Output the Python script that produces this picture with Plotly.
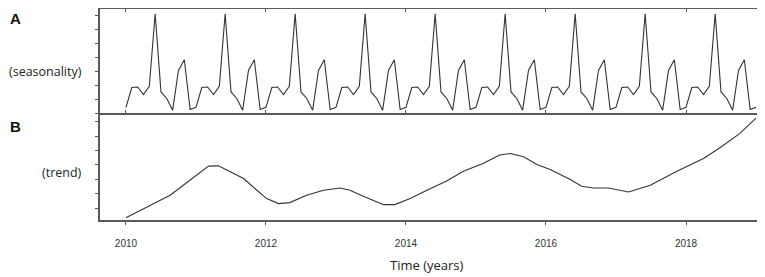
import plotly.graph_objects as go

# seasonal component (one cycle, Jan..Dec), repeats every year in the decomposition
season_pattern = [0.41, 1.84, 1.88, 1.34, 1.93, 7.16, 1.52, 1.05, 0.21, 3.07, 3.84, 0.26]
n_years = 9
season_t = [2010 + m / 12 for m in range(n_years * 12 + 1)]
seasonality = season_pattern * n_years + season_pattern[:1]

# trend component
trend_t = [2010.0, 2010.63, 2010.80, 2011.18, 2011.32, 2011.68, 2011.87, 2012.01, 2012.18,
           2012.34, 2012.58, 2012.82, 2013.06, 2013.20, 2013.39, 2013.68, 2013.84, 2014.06,
           2014.30, 2014.58, 2014.82, 2015.10, 2015.34, 2015.49, 2015.68, 2015.87, 2016.06,
           2016.34, 2016.51, 2016.68, 2016.89, 2017.18, 2017.49, 2017.87, 2018.25, 2018.49,
           2018.77, 2019.0]
trend = [-0.67, 0.89, 1.52, 2.92, 2.94, 2.06, 1.24, 0.66, 0.31,
         0.38, 0.89, 1.24, 1.40, 1.24, 0.82, 0.24, 0.24, 0.66,
         1.24, 1.89, 2.57, 3.10, 3.69, 3.80, 3.57, 3.03, 2.69,
         2.01, 1.52, 1.40, 1.40, 1.12, 1.59, 2.57, 3.45, 4.22,
         5.20, 6.27]

year_ticks = [2010, 2012, 2014, 2016, 2018]

line_col = "#333333"
axis_col = "#5a5a5a"

fig = go.Figure()
fig.add_trace(go.Scatter(x=season_t, y=seasonality, mode="lines",
                         line=dict(color=line_col, width=1.1), xaxis="x", yaxis="y",
                         showlegend=False))
fig.add_trace(go.Scatter(x=trend_t, y=trend, mode="lines",
                         line=dict(color=line_col, width=1.1), xaxis="x2", yaxis="y2",
                         showlegend=False))

# the page body has an 8px margin, so the figure is drawn 8px in from the corner
xrange = [2009.629, 2019.1]
split = 0.4976
ax_common = dict(showline=True, linecolor=axis_col, linewidth=1.6, showgrid=False,
                 zeroline=False, tickcolor=axis_col, ticklen=3, tickwidth=1)

fig.update_layout(
    width=757, height=269,
    margin=dict(l=92, r=2, t=1, b=57),
    paper_bgcolor="white", plot_bgcolor="white",
    font=dict(family="Liberation Sans", color="#222222"),
    xaxis=dict(domain=[0, 1], anchor="y", side="top", range=xrange, tickvals=year_ticks,
               showticklabels=False, ticks="inside", **ax_common),
    yaxis=dict(domain=[split, 1], anchor="x", range=[-0.14, 7.5], dtick=1, tick0=0,
               showticklabels=False, ticks="outside", **ax_common),
    xaxis2=dict(domain=[0, 1], anchor="y2", range=xrange, tickvals=year_ticks,
                ticktext=[str(v) for v in year_ticks], ticks="outside", mirror="allticks",
                ticklabelstandoff=10, tickfont=dict(size=10, color="#333333"), **ax_common),
    yaxis2=dict(domain=[0, split], anchor="x2", range=[-0.83, 6.48], dtick=1, tick0=0,
                showticklabels=False, ticks="outside", **ax_common),
)


# pixel helpers (reference pixel coords -> paper fractions)
def px(x):
    return (x - 100) / 663


def py(y):
    return (220 - y) / 211


label_font = dict(family="Open Sans", size=12.5, color="#222222")
fig.add_annotation(text="<b>A</b>", x=px(8), y=py(8), xref="paper", yref="paper",
                   xanchor="left", yanchor="top", showarrow=False,
                   font=dict(family="Liberation Sans", size=15, color="#111111"))
fig.add_annotation(text="<b>B</b>", x=px(8), y=py(126), xref="paper", yref="paper",
                   xanchor="left", yanchor="middle", showarrow=False,
                   font=dict(family="Liberation Sans", size=15, color="#111111"))
fig.add_annotation(text="(seasonality)", x=px(84), y=py(71), xref="paper", yref="paper",
                   xanchor="right", yanchor="middle", showarrow=False, font=label_font)
fig.add_annotation(text="(trend)", x=px(84), y=py(172), xref="paper", yref="paper",
                   xanchor="right", yanchor="middle", showarrow=False, font=label_font)
fig.add_annotation(text="Time (years)", x=px(427), y=py(265), xref="paper", yref="paper",
                   xanchor="center", yanchor="middle", showarrow=False,
                   font=dict(family="Open Sans", size=13, color="#222222"))

fig.write_html("out.html")
